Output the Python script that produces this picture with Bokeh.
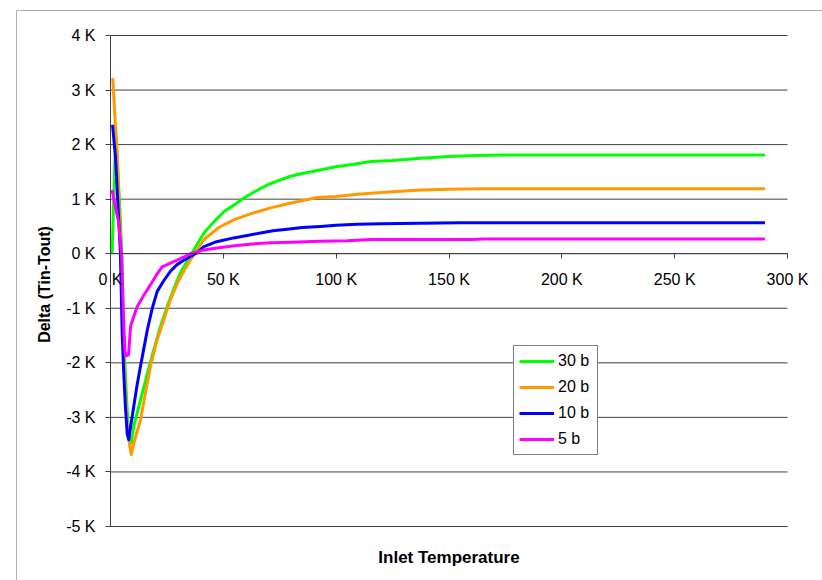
import math
from bokeh.plotting import figure
from bokeh.models import (Legend, LegendItem, FixedTicker, PrintfTickFormatter, Label, Range1d,
                          LinearAxis, BoxAnnotation)
from bokeh.embed import file_html
from bokeh.resources import INLINE

# ---------------- data ----------------
x_ticks = [0, 50, 100, 150, 200, 250, 300]
y_ticks = [-5, -4, -3, -2, -1, 0, 1, 2, 3, 4]
series_names = ["30 b", "20 b", "10 b", "5 b"]
series_colors = ["#00FF00", "#FF9900", "#0000FF", "#FF00FF"]

x_30b = [0.7, 2.3, 3.2, 4.2, 5.0, 5.8, 6.6, 7.3, 8.2, 9.2, 10.3, 13.3, 16.0, 19.2, 22.0, 25.1,
         28.0, 31.0, 35.5, 41.4, 45.5, 50.2, 55.0, 59.1, 64.0, 69.4, 75.0, 79.8, 85.0, 90.1,
         100.5, 108.0, 115.2, 125.0, 137.4, 150.0, 162.0, 175.0, 200.0, 225.0, 250.0, 275.0, 290.0]
y_30b = [0.0, 2.15, 1.55, 0.8, 0.0, -1.5, -2.2, -2.8, -3.35, -3.47, -3.16, -2.68, -2.25, -1.76,
         -1.35, -0.97, -0.65, -0.35, -0.03, 0.38, 0.57, 0.77, 0.9, 1.02, 1.14, 1.26, 1.35, 1.42,
         1.47, 1.51, 1.6, 1.64, 1.69, 1.71, 1.75, 1.78, 1.8, 1.81, 1.81, 1.81, 1.81, 1.81, 1.81]

x_20b = [1.0, 2.2, 2.9, 3.8, 4.6, 5.5, 6.5, 7.5, 8.3, 9.2, 10.3, 11.5, 13.3, 15.5, 17.7, 20.5,
         23.6, 26.5, 29.6, 33.0, 35.5, 41.4, 48.0, 54.6, 62.0, 70.9, 80.0, 91.6, 100.0, 109.3,
         120.0, 137.4, 150.0, 165.0, 200.0, 250.0, 290.0]
y_20b = [3.22, 2.33, 1.9, 0.9, 0.0, -1.3, -2.5, -3.2, -3.45, -3.68, -3.48, -3.3, -3.05, -2.55,
         -2.06, -1.6, -1.21, -0.85, -0.54, -0.28, -0.11, 0.26, 0.48, 0.62, 0.73, 0.84, 0.93,
         1.03, 1.05, 1.09, 1.12, 1.17, 1.18, 1.19, 1.19, 1.19, 1.19]

x_10b = [0.9, 2.2, 3.3, 4.4, 5.2, 6.0, 6.6, 7.4, 8.1, 8.8, 10.3, 11.8, 13.3, 16.3, 18.5, 20.7,
         23.5, 26.6, 29.5, 32.5, 38.4, 41.4, 47.0, 54.6, 60.0, 66.5, 72.0, 78.3, 85.0, 93.0,
         100.0, 109.3, 120.0, 137.4, 155.0, 200.0, 250.0, 290.0]
y_10b = [2.36, 1.78, 0.9, 0.0, -1.5, -2.3, -2.8, -3.3, -3.41, -3.2, -2.8, -2.4, -2.06, -1.4,
         -1.0, -0.69, -0.5, -0.32, -0.2, -0.12, 0.02, 0.13, 0.22, 0.29, 0.33, 0.38, 0.42, 0.45,
         0.48, 0.5, 0.52, 0.54, 0.55, 0.56, 0.57, 0.57, 0.57, 0.57]

x_5b = [0.7, 2.2, 3.5, 4.9, 5.8, 6.4, 7.0, 8.0, 8.9, 10.3, 11.8, 14.5, 17.7, 20.5, 22.9, 27.3,
        31.0, 35.5, 41.4, 48.0, 56.1, 63.0, 70.9, 80.0, 93.0, 105.0, 115.2, 137.4, 160.0, 165.0,
        200.0, 250.0, 290.0]
y_5b = [1.17, 0.85, 0.6, 0.0, -1.2, -1.8, -1.87, -1.85, -1.33, -1.15, -0.97, -0.78, -0.57,
        -0.38, -0.24, -0.16, -0.09, 0.0, 0.07, 0.11, 0.15, 0.18, 0.2, 0.21, 0.23, 0.24, 0.26,
        0.26, 0.26, 0.27, 0.27, 0.27, 0.27]

series_x = [x_30b, x_20b, x_10b, x_5b]
series_y = [y_30b, y_20b, y_10b, y_5b]

x_title = "Inlet Temperature"
y_title = "Delta (Tin-Tout)"

# ---------------- layout (pixels in the photographed picture) ----------------
FONT = "Liberation Sans"
GRID = "#404040"
W, H = 822, 580            # canvas size
CANVAS_X, CANVAS_Y = 0, 0  # where the canvas shows up in the picture
PLOT_L, PLOT_R = 110, 787  # picture x of x_ticks[0], x_ticks[-1]
PLOT_T, PLOT_B = 35, 526   # picture y of y_ticks[-1], y_ticks[0]

x_lo, x_hi = x_ticks[0], x_ticks[-1]
y_lo, y_hi = y_ticks[0], y_ticks[-1]
sx = (x_hi - x_lo) / (PLOT_R - PLOT_L)   # data units per px
sy = (y_hi - y_lo) / (PLOT_B - PLOT_T)


def dx(px):
    return x_lo + (px - PLOT_L) * sx


def dy(py):
    return y_hi - (py - PLOT_T) * sy


p = figure(width=W, height=H,
           x_range=Range1d(dx(CANVAS_X), dx(CANVAS_X + W)),
           y_range=Range1d(dy(CANVAS_Y + H), dy(CANVAS_Y)),
           x_axis_location=None, y_axis_location=None,
           output_backend="svg", toolbar_location=None,
           min_border=0)
p.min_border_left = p.min_border_right = p.min_border_top = p.min_border_bottom = 0
p.outline_line_color = None
p.background_fill_color = "white"
p.border_fill_color = "white"
p.xgrid.visible = False
p.ygrid.visible = False

# outer chart-area border (only its left and top edges are in view)
p.add_layout(BoxAnnotation(left=dx(16), top=dy(10), right=dx(2000), bottom=dy(2000),
                           fill_alpha=0, line_color="black", line_width=1))

# horizontal gridlines across the plot area
p.segment(x0=[x_lo] * len(y_ticks), x1=[x_hi] * len(y_ticks), y0=y_ticks, y1=y_ticks,
          line_color=GRID, line_width=1)

# x axis crossing at y = 0
xa = LinearAxis(fixed_location=0, bounds=(x_lo, x_hi))
xa.ticker = FixedTicker(ticks=x_ticks)
xa.formatter = PrintfTickFormatter(format="%d K")
xa.axis_line_color = GRID
xa.major_tick_line_color = GRID
xa.major_tick_in = 0
xa.major_tick_out = 5
xa.minor_tick_line_color = None
xa.major_label_standoff = 12
xa.major_label_text_font = FONT
xa.major_label_text_font_size = "16px"
xa.major_label_text_color = "black"
p.add_layout(xa, "below")

ya = LinearAxis(fixed_location=x_lo, bounds=(y_lo, y_hi))
ya.ticker = FixedTicker(ticks=y_ticks)
ya.formatter = PrintfTickFormatter(format="%d K")
ya.axis_line_color = GRID
ya.major_tick_line_color = GRID
ya.major_tick_in = 0
ya.major_tick_out = 5
ya.minor_tick_line_color = None
ya.major_label_standoff = 10
ya.major_label_text_font = FONT
ya.major_label_text_font_size = "16px"
ya.major_label_text_color = "black"
p.add_layout(ya, "left")

renderers = []
for xs, ys, c in zip(series_x, series_y, series_colors):
    r = p.line(xs, ys, line_color=c, line_width=3, line_join="round")
    renderers.append(r)

legend = Legend(items=[LegendItem(label=n, renderers=[r]) for n, r in zip(series_names, renderers)],
                location=(513 - CANVAS_X, CANVAS_Y + H - 455))
legend.border_line_color = "black"
legend.border_line_width = 1
legend.background_fill_color = "white"
legend.background_fill_alpha = 1.0
legend.label_text_font = FONT
legend.label_text_font_size = "16px"
legend.label_text_color = "black"
legend.glyph_width = 35
legend.glyph_height = 20
legend.label_height = 20
legend.label_width = 34
legend.label_standoff = 4
legend.spacing = 6
legend.padding = 5
legend.margin = 0
p.add_layout(legend, "center")

p.add_layout(Label(x=(x_lo + x_hi) / 2, y=dy(557), text=x_title,
                   text_align="center", text_baseline="middle",
                   text_font=FONT, text_font_size="17px", text_font_style="bold",
                   text_color="black"))
p.add_layout(Label(x=dx(44), y=dy(284), text=y_title, angle=math.pi / 2,
                   text_align="center", text_baseline="middle",
                   text_font=FONT, text_font_size="16px", text_font_style="bold",
                   text_color="black"))

open("out.html", "w").write(file_html(p, INLINE))
